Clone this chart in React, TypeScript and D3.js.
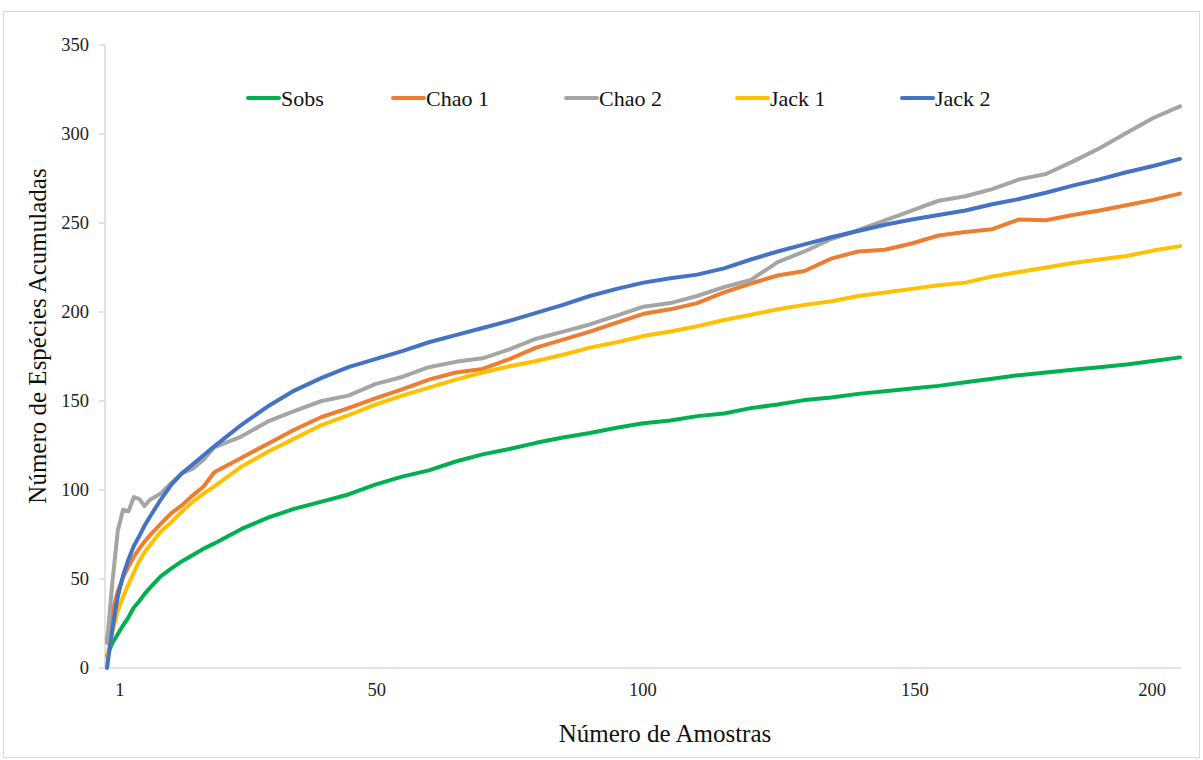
import React from "react";
import * as d3 from "d3";

// sample positions (x axis units, 0..200)
const samples = [0, 1, 2, 3, 4, 5, 6, 7, 8, 10, 12, 14, 16, 18, 20, 25, 30, 35, 40, 45, 50, 55, 60, 65, 70, 75, 80, 85, 90, 95, 100, 105, 110, 115, 120, 125, 130, 135, 140, 145, 150, 155, 160, 165, 170, 175, 180, 185, 190, 195, 200];

const sobs = [7, 14, 19, 24, 28.5, 34, 37.5, 41.5, 45, 51.5, 56, 60, 63.5, 67, 70, 78, 84.5, 89.5, 93.5, 97.5, 103, 107.5, 111, 116, 120, 123, 126.5, 129.5, 132, 135, 137.5, 139, 141.5, 143, 146, 148, 150.5, 152, 154, 155.5, 157, 158.5, 160.5, 162.5, 164.5, 166, 167.5, 169, 170.5, 172.5, 174.5];
const chao1 = [16, 31, 43, 51, 57, 62.5, 67, 71, 74.5, 81, 87, 91.5, 97, 102, 110, 118, 126, 134, 141, 146, 151.5, 156.5, 162, 166, 168, 173.5, 180, 184.5, 189, 194, 199, 201.5, 205, 211, 216, 220.5, 223, 230, 234, 235, 238.5, 243, 245, 246.5, 252, 251.5, 254.5, 257, 260, 263, 266.5];
const chao2 = [14, 48, 77, 89, 88, 96, 95, 91, 94.5, 98, 104, 109.5, 112, 117, 124, 130, 138.5, 144.5, 150, 153, 159.5, 163.5, 169, 172, 174, 179, 185, 189, 193, 198, 203, 205, 209, 214, 218, 228, 234, 241, 246, 251.5, 257, 262.5, 265, 269, 274.5, 277.5, 284.5, 292, 300.5, 309, 315.5];
const jack1 = [6, 20, 32, 40, 47, 53.5, 60, 65, 69, 76.5, 82, 88, 93.5, 98, 102, 113, 121.5, 129, 136.5, 142, 148, 153, 157.5, 162, 166, 169.5, 172.5, 176, 180, 183, 186.5, 189, 192, 195.5, 198.5, 201.5, 204, 206, 209, 211, 213, 215, 216.5, 220, 222.5, 225, 227.5, 229.5, 231.5, 234.5, 237];
const jack2 = [0, 22, 40, 52, 61, 68.5, 74, 80, 85, 94.5, 103, 109.5, 114.5, 119.5, 124.5, 136.5, 147, 156, 163, 169, 173.5, 178, 183, 187, 191, 195, 199.5, 204, 209, 213, 216.5, 219, 221, 224.5, 229.5, 234, 238, 242, 245.5, 249, 252, 254.5, 257, 260.5, 263.5, 267, 271, 274.5, 278.5, 282, 286];

const seriesNames = ["Sobs", "Chao 1", "Chao 2", "Jack 1", "Jack 2"];
const seriesValues = [sobs, chao1, chao2, jack1, jack2];
const colors = ["#00b050", "#ed7d31", "#a5a5a5", "#ffc000", "#4472c4"];

const yTicks = [0, 50, 100, 150, 200, 250, 300, 350];
const xTickPos = [2.4, 50.3, 99.9, 150.6, 194.8];
const xTickLabels = ["1", "50", "100", "150", "200"];

const legendX = [248, 393, 566, 737, 902];

const font = "'Liberation Serif', 'Times New Roman', serif";

export default function App() {
  const x = d3.scaleLinear().domain([0, 200]).range([107, 1180]);
  const y = d3.scaleLinear().domain([0, 350]).range([668, 45]);

  const line = d3
    .line<number>()
    .x((_, i) => x(samples[i]))
    .y(d => y(d));

  return (
    <svg
      width={1203}
      height={760}
      style={{ position: "absolute", left: 0, top: 0, background: "#fff" }}
      fontFamily={font}
    >
      <rect x={3.5} y={11.5} width={1196} height={746} fill="#fff" stroke="#d9d9d9" />

      {/* y axis */}
      <line x1={105} x2={105} y1={45} y2={668} stroke="#d9d9d9" strokeWidth={1.5} />
      {yTicks.map(t => (
        <g key={t}>
          <line x1={99} x2={105} y1={y(t)} y2={y(t)} stroke="#d9d9d9" strokeWidth={1.5} />
          <text x={89} y={y(t)} dy="0.35em" textAnchor="end" fontSize={18.5} fill="#222">
            {t}
          </text>
        </g>
      ))}

      {/* x axis */}
      <line x1={105} x2={1181} y1={668} y2={668} stroke="#d9d9d9" strokeWidth={1.5} />
      {xTickPos.map((p, i) => (
        <text key={i} x={x(p)} y={696} textAnchor="middle" fontSize={18.5} fill="#222">
          {xTickLabels[i]}
        </text>
      ))}

      {/* series */}
      {seriesValues.map((vals, i) => (
        <path
          key={seriesNames[i]}
          d={line(vals) || ""}
          fill="none"
          stroke={colors[i]}
          strokeWidth={4}
          strokeLinejoin="round"
          strokeLinecap="round"
        />
      ))}

      {/* legend */}
      {seriesNames.map((name, i) => (
        <g key={name}>
          <line
            x1={legendX[i]}
            x2={legendX[i] + 31}
            y1={98}
            y2={98}
            stroke={colors[i]}
            strokeWidth={4}
            strokeLinecap="round"
          />
          <text x={legendX[i] + 33} y={98} dy="0.35em" fontSize={22} fill="#111">
            {name}
          </text>
        </g>
      ))}

      {/* titles */}
      <text x={665} y={742} textAnchor="middle" fontSize={25} fill="#111">
        Número de Amostras
      </text>
      <text transform="translate(46,336) rotate(-90)" textAnchor="middle" fontSize={25} fill="#111">
        Número de Espécies Acumuladas
      </text>
    </svg>
  );
}
